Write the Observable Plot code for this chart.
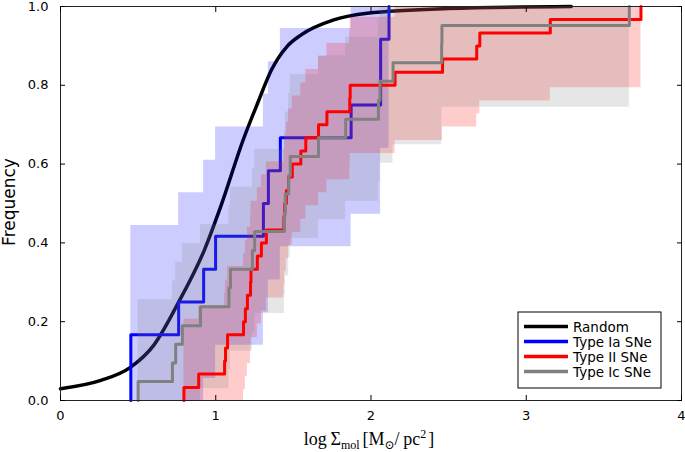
<!DOCTYPE html>
<html><head><meta charset="utf-8">
<script src="https://cdn.jsdelivr.net/npm/d3@7"></script>
<script src="https://cdn.jsdelivr.net/npm/@observablehq/plot@0.6"></script>
<style>body{margin:0;background:#fff} svg{display:block}</style>
</head><body><div id="chart"></div>
<script>
const xTicks = [0, 1, 2, 3, 4];
const yTicks = [0, 0.2, 0.4, 0.6, 0.8, 1.0];

// Random distribution (smooth CDF)
const randomX = [0, 0.26, 0.45, 0.6, 0.76, 0.93, 1.03, 1.18, 1.27, 1.36, 1.46, 1.55, 1.76, 1.975, 2.5, 3.29];
const randomY = [0.030, 0.051, 0.084, 0.14, 0.249, 0.385, 0.49, 0.665, 0.755, 0.84, 0.899, 0.928, 0.966, 0.983, 0.995, 1.0];

// Type Ia SNe
const iaX  = [0.453, 0.453, 0.761, 0.922, 0.999, 1.307, 1.339, 1.416, 1.872, 2.062, 2.062, 2.116];
const iaF  = [0.083, 0.167, 0.250, 0.333, 0.417, 0.500, 0.583, 0.667, 0.750, 0.833, 0.917, 1.000];
const iaLo = [0, 0, 0, 0.056, 0.140, 0.223, 0.306, 0.390, 0.473, 0.556, 0.640, 0.723];
const iaHi = [0.360, 0.444, 0.527, 0.610, 0.694, 0.777, 0.860, 0.944, 1, 1, 1, 1];

// Type II SNe
const iiX  = [0.795, 0.890, 1.057, 1.063, 1.076, 1.179, 1.191, 1.204, 1.224, 1.227, 1.268, 1.294, 1.326, 1.439, 1.444, 1.455, 1.469, 1.493, 1.548, 1.580, 1.662, 1.716, 1.863, 1.866, 2.155, 2.461, 2.681, 2.701, 3.155, 3.739];
const iiF  = [0.033, 0.067, 0.100, 0.133, 0.167, 0.200, 0.233, 0.267, 0.300, 0.333, 0.367, 0.400, 0.433, 0.467, 0.500, 0.533, 0.567, 0.600, 0.633, 0.667, 0.700, 0.733, 0.767, 0.800, 0.833, 0.867, 0.900, 0.933, 0.967, 1.000];
const iiLo = [0, 0, 0, 0, 0, 0.027, 0.060, 0.094, 0.127, 0.160, 0.194, 0.227, 0.260, 0.294, 0.327, 0.360, 0.394, 0.427, 0.460, 0.494, 0.527, 0.560, 0.594, 0.627, 0.660, 0.694, 0.727, 0.760, 0.794, 0.827];
const iiHi = [0.206, 0.240, 0.273, 0.306, 0.340, 0.373, 0.406, 0.440, 0.473, 0.506, 0.540, 0.573, 0.606, 0.640, 0.673, 0.706, 0.740, 0.773, 0.806, 0.840, 0.873, 0.906, 0.940, 0.973, 1, 1, 1, 1, 1, 1];

// Type Ic SNe
const icX  = [0.500, 0.721, 0.742, 0.785, 0.902, 1.085, 1.095, 1.236, 1.251, 1.442, 1.448, 1.470, 1.480, 1.662, 1.837, 2.048, 2.058, 2.142, 2.455, 2.457, 3.664];
const icF  = [0.048, 0.095, 0.143, 0.190, 0.238, 0.286, 0.333, 0.381, 0.429, 0.476, 0.524, 0.571, 0.619, 0.667, 0.714, 0.762, 0.810, 0.857, 0.905, 0.952, 1.000];
const icLo = [0, 0, 0, 0, 0.030, 0.078, 0.125, 0.173, 0.221, 0.268, 0.316, 0.363, 0.411, 0.459, 0.506, 0.554, 0.602, 0.649, 0.697, 0.744, 0.792];
const icHi = [0.256, 0.303, 0.351, 0.398, 0.446, 0.494, 0.541, 0.589, 0.637, 0.684, 0.732, 0.779, 0.827, 0.875, 0.922, 0.970, 1, 1, 1, 1, 1];

const legendNames  = ["Random", "Type Ia SNe", "Type II SNe", "Type Ic SNe"];
const legendColors = ["black", "blue", "red", "gray"];

const randomData = randomX.map((x, i) => ({x, y: randomY[i]}));
const stepLine = (X, F) => [{x: X[0], y: 0}, ...X.map((x, i) => ({x, y: F[i]}))];
const band = (X, Lo, Hi) => X.map((x, i) => ({x, lo: Lo[i], hi: Hi[i]}));

const noText = () => "";
const chart = Plot.plot({
  width: 685, height: 452,
  marginLeft: 60, marginRight: 4, marginTop: 6, marginBottom: 52,
  x: {domain: [0, 4]},
  y: {domain: [0, 1]},
  style: {fontFamily: "'DejaVu Sans', sans-serif", fontSize: "13px", color: "black", background: "white", overflow: "visible"},
  marks: [
    Plot.line(randomData, {x: "x", y: "y", curve: "monotone-x", stroke: "black", strokeWidth: 3.5}),
    Plot.line(stepLine(iaX, iaF), {x: "x", y: "y", curve: "step-after", stroke: "blue", strokeWidth: 3}),
    Plot.areaY(band(iaX, iaLo, iaHi), {x: "x", y1: "lo", y2: "hi", curve: "step-after", fill: "blue", fillOpacity: 0.2}),
    Plot.areaY(band(iiX, iiLo, iiHi), {x: "x", y1: "lo", y2: "hi", curve: "step-after", fill: "red", fillOpacity: 0.2}),
    Plot.areaY(band(icX, icLo, icHi), {x: "x", y1: "lo", y2: "hi", curve: "step-after", fill: "gray", fillOpacity: 0.2}),
    Plot.line(stepLine(iiX, iiF), {x: "x", y: "y", curve: "step-after", stroke: "red", strokeWidth: 3}),
    Plot.line(stepLine(icX, icF), {x: "x", y: "y", curve: "step-after", stroke: "gray", strokeWidth: 3}),
    Plot.frame({stroke: "#222", strokeWidth: 1}),
    Plot.axisX({anchor: "bottom", ticks: xTicks, tickSize: 0, tickPadding: 10, tickFormat: d => String(d), label: null}),
    Plot.axisX({anchor: "bottom", ticks: xTicks, tickSize: -5, tickFormat: noText, label: null}),
    Plot.axisX({anchor: "top", ticks: xTicks, tickSize: -5, tickFormat: noText, label: null}),
    Plot.axisY({anchor: "left", ticks: yTicks, tickSize: 0, tickPadding: 12, tickFormat: d3.format(".1f"), label: null}),
    Plot.axisY({anchor: "left", ticks: yTicks, tickSize: -5, tickFormat: noText, label: null}),
    Plot.axisY({anchor: "right", ticks: yTicks, tickSize: -5, tickFormat: noText, label: null})
  ]
});
document.getElementById("chart").appendChild(chart);

const svg = d3.select(chart);
// y label
svg.append("text")
  .attr("transform", "translate(15,202) rotate(-90)")
  .attr("text-anchor", "middle")
  .attr("font-family", "'DejaVu Sans', sans-serif")
  .attr("font-size", 17)
  .attr("fill", "black")
  .text("Frequency");

// x label
const xl = svg.append("text")
  .attr("x", 369).attr("y", 445)
  .attr("text-anchor", "middle")
  .attr("font-family", "'Liberation Serif', 'DejaVu Serif', serif")
  .attr("font-size", 18)
  .attr("fill", "black");
xl.append("tspan").text("log\u2009\u03A3");
xl.append("tspan").attr("dy", 4).attr("font-size", 12).text("mol");
xl.append("tspan").attr("dy", -4).attr("dx", 3).text("[M");
xl.append("tspan").attr("dy", 4).attr("font-size", 12).text("\u2299");
xl.append("tspan").attr("dy", -4).text("/\u2009pc");
xl.append("tspan").attr("dy", -7).attr("font-size", 12).text("2");
xl.append("tspan").attr("dy", 7).attr("dx", 2).text("]");

// legend
const lg = svg.append("g").attr("text-anchor", "start");
lg.append("rect").attr("x", 518).attr("y", 312).attr("width", 143).attr("height", 76)
  .attr("fill", "white").attr("stroke", "black").attr("stroke-width", 1);
legendNames.forEach((name, i) => {
  const yy = 326.5 + i * 15;
  lg.append("line").attr("x1", 524).attr("x2", 568).attr("y1", yy).attr("y2", yy)
    .attr("stroke", legendColors[i]).attr("stroke-width", 3.5);
  lg.append("text").attr("x", 573).attr("y", yy + 5)
    .attr("text-anchor", "start")
    .attr("font-family", "'DejaVu Sans', sans-serif").attr("font-size", 13.5)
    .attr("fill", "black").text(name);
});
</script>
</body></html>
